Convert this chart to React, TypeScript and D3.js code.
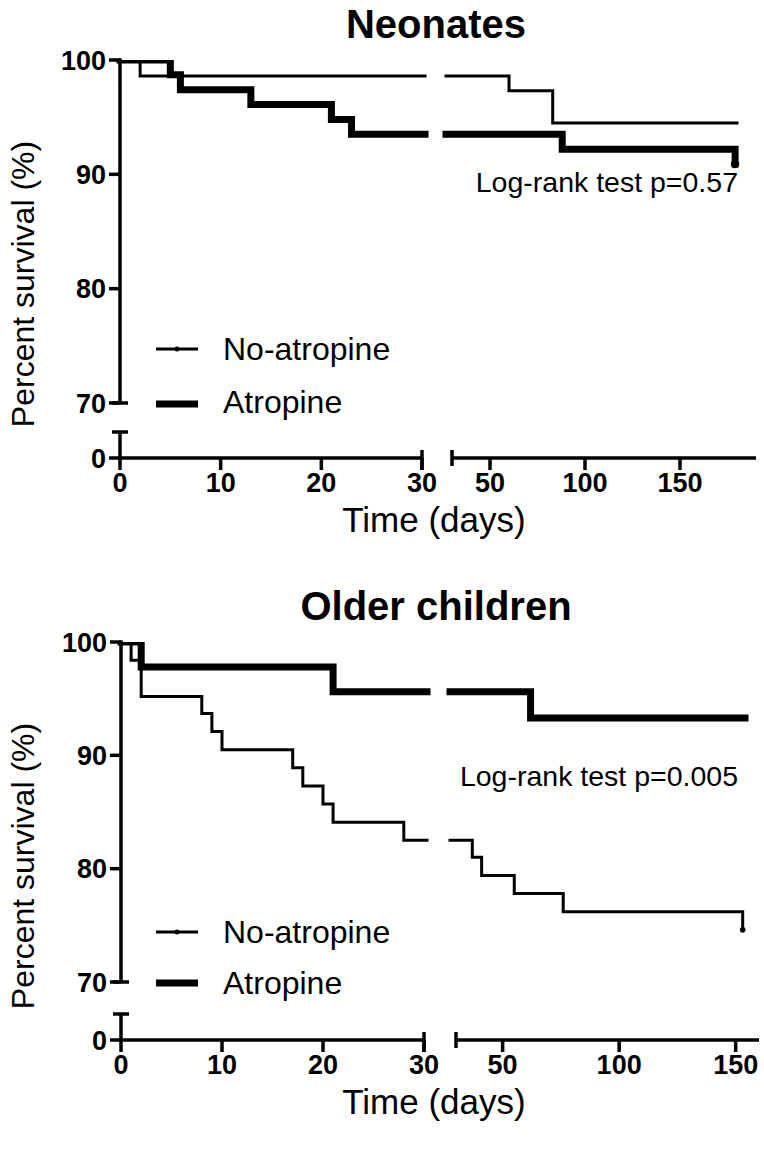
import React from 'react';
import * as d3 from 'd3';

// ---------- data ----------
const yTickValues = [100, 90, 80, 70];
const xTicksFirst = [0, 10, 20, 30];
const xTicksSecond = [50, 100, 150];

const neoNoAtropineDays = [0, 2, 60, 83, 180];
const neoNoAtropineSurv = [100, 98.6, 97.3, 94.5, 94.5];
const neoAtropineDays = [0, 5, 6, 13, 21, 23, 88, 179];
const neoAtropineSurv = [100, 98.7, 97.4, 96.1, 94.8, 93.5, 92.2, 90.9];

const oldNoAtropineDays = [0, 1, 2, 8, 9, 10, 17, 18, 20, 21, 28, 37, 41, 55, 76, 153];
const oldNoAtropineSurv = [100, 98.4, 95.2, 93.7, 92.1, 90.5, 88.9, 87.3, 85.7, 84.1, 82.5, 81.0, 79.4, 77.8, 76.2, 74.6];
const oldAtropineDays = [0, 2, 21, 62, 154];
const oldAtropineSurv = [100, 97.8, 95.6, 93.3, 93.3];

const legendLabels = ['No-atropine', 'Atropine'];
const panelTitles = ['Neonates', 'Older children'];
const logRankLabels = ['Log-rank test p=0.57', 'Log-rank test p=0.005'];
const secondSegmentMax = [190, 160];

const FONT = "'Liberation Sans', Arial, Helvetica, sans-serif";

type Layout = {
  yTop: number; y70: number; yCap: number; y0: number;
  x0: number; x30: number; x2s: number; x2e: number;
  titleY: number; ylabY: number; tickLabY: number; xlabY: number;
  logY: number; legY1: number; legY2: number; legTxt1: number; legTxt2: number;
};

const layouts: Layout[] = [
  { yTop: 60, y70: 403, yCap: 432, y0: 458, x0: 120, x30: 422, x2s: 452, x2e: 756,
    titleY: 38, ylabY: 284, tickLabY: 492, xlabY: 532, logY: 192,
    legY1: 349, legY2: 404, legTxt1: 360, legTxt2: 413 },
  { yTop: 642, y70: 982, yCap: 1014, y0: 1040, x0: 121, x30: 424, x2s: 456, x2e: 759,
    titleY: 620, ylabY: 866, tickLabY: 1074, xlabY: 1114, logY: 786,
    legY1: 932, legY2: 983, legTxt1: 943, legTxt2: 994 },
];

type Series = { days: number[]; surv: number[]; thick: boolean; endDot: boolean };

const panels: Series[][] = [
  [
    { days: neoNoAtropineDays, surv: neoNoAtropineSurv, thick: false, endDot: false },
    { days: neoAtropineDays, surv: neoAtropineSurv, thick: true, endDot: true },
  ],
  [
    { days: oldNoAtropineDays, surv: oldNoAtropineSurv, thick: false, endDot: true },
    { days: oldAtropineDays, surv: oldAtropineSurv, thick: true, endDot: false },
  ],
];

const AXW = 3.5;
const THIN = 3;
const THICK = 7;

function Panel({ idx }: { idx: number }) {
  const L = layouts[idx];
  const x1 = d3.scaleLinear().domain([0, 30]).range([L.x0, L.x30]);
  const x2 = d3.scaleLinear().domain([30, secondSegmentMax[idx]]).range([L.x2s, L.x2e]);
  const y = d3.scaleLinear().domain([70, 100]).range([L.y70, L.yTop]);
  const yLow = d3.scaleLinear().domain([0, 1]).range([L.y0, L.yCap]);
  const line = d3.line<[number, number]>().curve(d3.curveStepAfter);
  const clipId = `clip${idx}`;
  const capHalf = 8;
  const tickLen = 11;

  const series = panels[idx];

  const paths = series.map((s, i) => {
    const pts = s.days.map((d, j) => [d, s.surv[j]] as [number, number]);
    const first = pts.filter((p) => p[0] <= 30);
    const lastFirst = first[first.length - 1][1];
    const seg1: [number, number][] = first.map((p) => [x1(p[0]), y(p[1])]);
    seg1.push([x1(30) + 3, y(lastFirst)]);
    const seg2: [number, number][] = [[x2(30) - 6, y(lastFirst)]];
    pts.filter((p) => p[0] > 30).forEach((p) => seg2.push([x2(p[0]), y(p[1])]));
    const last = pts[pts.length - 1];
    return (
      <g key={i} fill="none" stroke="#000" strokeWidth={s.thick ? THICK : THIN} strokeLinecap="square" strokeLinejoin="miter">
        <path d={line(seg1) || ''} />
        <path d={line(seg2) || ''} />
        {s.endDot && (
          <circle cx={x2(last[0])} cy={y(last[1])} r={s.thick ? 4.2 : 2.8} fill="#000" stroke="none" />
        )}
      </g>
    );
  });

  const legX1 = 156;
  const legX2 = 198;
  const legTextX = 223;

  return (
    <g>
      <text x={436} y={L.titleY} textAnchor="middle" fontFamily={FONT} fontWeight="bold" fontSize={40}>
        {panelTitles[idx]}
      </text>
      <defs>
        <clipPath id={clipId}>
          <rect x={0} y={y(100)} width={764} height={L.y70 - y(100) + 40} />
        </clipPath>
      </defs>
      <g stroke="#000" strokeWidth={AXW} fill="none">
        <line x1={L.x0} x2={L.x0} y1={y(100) - AXW / 2} y2={y(70)} />
        {yTickValues.map((t) => (
          <line key={t} x1={L.x0 - tickLen} x2={L.x0} y1={y(t)} y2={y(t)} />
        ))}
        <line x1={L.x0 - capHalf} x2={L.x0 + capHalf} y1={y(70)} y2={y(70)} />
        <line x1={L.x0} x2={L.x0} y1={yLow(1)} y2={yLow(0)} />
        <line x1={L.x0 - capHalf} x2={L.x0 + capHalf} y1={yLow(1)} y2={yLow(1)} />
        <line x1={L.x0 - tickLen} x2={L.x0} y1={yLow(0)} y2={yLow(0)} />
        <line x1={x1(0)} x2={x1(30)} y1={L.y0} y2={L.y0} />
        {xTicksFirst.map((t) => (
          <line key={t} x1={x1(t)} x2={x1(t)} y1={L.y0} y2={L.y0 + 12} />
        ))}
        <line x1={x1(30)} x2={x1(30)} y1={L.y0 - capHalf} y2={L.y0 + 12} />
        <line x1={x2(30)} x2={x2(secondSegmentMax[idx])} y1={L.y0} y2={L.y0} />
        <line x1={x2(30)} x2={x2(30)} y1={L.y0 - capHalf} y2={L.y0 + capHalf} />
        {xTicksSecond.map((t) => (
          <line key={t} x1={x2(t)} x2={x2(t)} y1={L.y0} y2={L.y0 + 12} />
        ))}
      </g>
      <g fontFamily={FONT} fontWeight="bold" fontSize={27} textAnchor="end">
        {yTickValues.map((t) => (
          <text key={t} x={L.x0 - tickLen - 3} y={y(t)} dy="0.36em">{t}</text>
        ))}
        <text x={L.x0 - tickLen - 3} y={yLow(0)} dy="0.36em">0</text>
      </g>
      <g fontFamily={FONT} fontWeight="bold" fontSize={27} textAnchor="middle">
        {xTicksFirst.map((t) => (
          <text key={t} x={x1(t)} y={L.tickLabY}>{t}</text>
        ))}
        {xTicksSecond.map((t) => (
          <text key={t} x={x2(t)} y={L.tickLabY}>{t}</text>
        ))}
      </g>
      <text x={434} y={L.xlabY} textAnchor="middle" fontFamily={FONT} fontSize={35}>Time (days)</text>
      <text transform={`translate(34,${L.ylabY}) rotate(-90)`} textAnchor="middle" fontFamily={FONT} fontSize={32}>
        Percent survival (%)
      </text>
      <g clipPath={`url(#${clipId})`}>{paths}</g>
      <text x={738} y={L.logY} textAnchor="end" fontFamily={FONT} fontSize={28.5}>{logRankLabels[idx]}</text>
      <g stroke="#000" fill="none">
        <line x1={legX1} x2={legX2} y1={L.legY1} y2={L.legY1} strokeWidth={THIN} />
        <circle cx={(legX1 + legX2) / 2} cy={L.legY1} r={2.5} fill="#000" stroke="none" />
        <line x1={legX1} x2={legX2} y1={L.legY2} y2={L.legY2} strokeWidth={THICK} />
      </g>
      <g fontFamily={FONT} fontSize={32}>
        <text x={legTextX} y={L.legTxt1}>{legendLabels[0]}</text>
        <text x={legTextX} y={L.legTxt2}>{legendLabels[1]}</text>
      </g>
    </g>
  );
}

export default function App() {
  return (
    <svg width={764} height={1149} style={{ position: 'absolute', left: 0, top: 0, background: '#fff' }}>
      <rect width={764} height={1149} fill="#fff" />
      <Panel idx={0} />
      <Panel idx={1} />
    </svg>
  );
}
